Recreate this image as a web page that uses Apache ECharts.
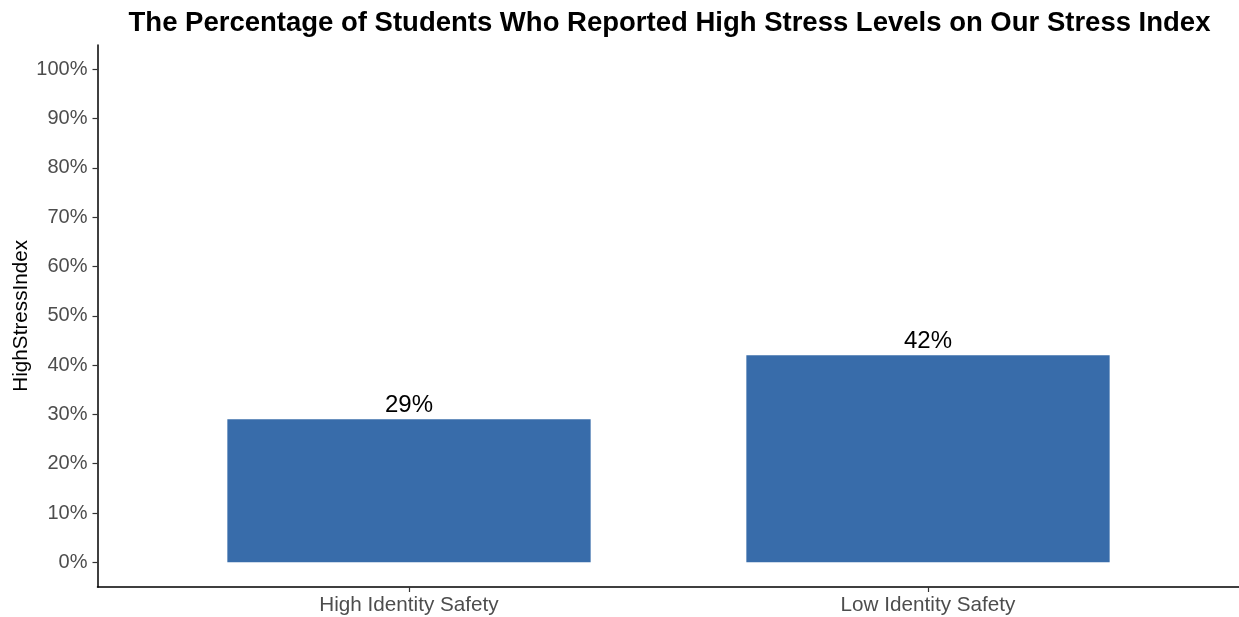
<!DOCTYPE html>
<html>
<head>
<meta charset="utf-8">
<script src="https://cdn.jsdelivr.net/npm/echarts@6/dist/echarts.min.js"></script>
<style>html,body{margin:0;padding:0;background:#fff;}#c{width:1239px;height:617px;}</style>
</head>
<body>
<div id="c"></div>
<script>
var categories = ['High Identity Safety', 'Low Identity Safety'];
var highStress = [29, 42];
var titleText = 'The Percentage of Students Who Reported High Stress Levels on Our Stress Index';
var yName = 'HighStressIndex';

var chart = echarts.init(document.getElementById('c'), null, {renderer: 'canvas'});
var font = 'Liberation Sans, Arial, sans-serif';
chart.setOption({
  animation: false,
  backgroundColor: '#fff',
  title: {
    text: titleText,
    left: 664.5, top: 4, textAlign: 'center',
    textStyle: {fontFamily: font, fontWeight: 'bold', fontSize: 27.5, color: '#000'}
  },
  grid: [
    {left: 97.5, right: 0, top: 45, bottom: 30, containLabel: false, outerBoundsMode: 'none'},
    {left: 149.5, right: 51.5, top: 69.3, bottom: 54.7, containLabel: false, outerBoundsMode: 'none'},
    {left: 149.5, right: 51.5, top: 45, bottom: 30, containLabel: false, outerBoundsMode: 'none'}
  ],
  xAxis: [
    {gridIndex: 0, type: 'value', min: 0, max: 1, axisLine: {show: true, onZero: false, lineStyle: {color: '#000', width: 1.5}},
     axisTick: {show: false}, axisLabel: {show: false}, splitLine: {show: false}},
    {gridIndex: 1, type: 'category', data: categories, show: false},
    {gridIndex: 2, type: 'category', data: categories,
     axisLine: {show: false}, axisTick: {show: true, alignWithLabel: true, length: 5, lineStyle: {color: '#333', width: 1.2}},
     axisLabel: {margin: 8, fontFamily: font, fontSize: 20.7, color: '#4d4d4d'}, splitLine: {show: false}}
  ],
  yAxis: [
    {gridIndex: 0, type: 'value', min: 0, max: 1, axisLine: {show: true, onZero: false, lineStyle: {color: '#000', width: 1.5}},
     axisTick: {show: false}, axisLabel: {show: false}, splitLine: {show: false}},
    {gridIndex: 1, type: 'value', min: 0, max: 100, interval: 10, offset: 52,
     name: yName, nameLocation: 'middle', nameGap: 66, nameRotate: 90, nameMoveOverlap: false,
     nameTextStyle: {fontFamily: font, fontSize: 20.7, color: '#000'},
     axisLine: {show: false}, axisTick: {show: true, length: 5, lineStyle: {color: '#333', width: 1.2}},
     axisLabel: {margin: 10, formatter: '{value}%', fontFamily: font, fontSize: 20, color: '#4d4d4d'},
     splitLine: {show: false}},
    {gridIndex: 2, type: 'value', min: 0, max: 1, show: false}
  ],
  series: [{
    type: 'bar', xAxisIndex: 1, yAxisIndex: 1, data: highStress, barWidth: '70%',
    itemStyle: {color: '#386caa'},
    label: {show: true, position: 'top', distance: 2, formatter: '{c}%', fontFamily: font, fontSize: 24, color: '#000'}
  }]
});
</script>
</body>
</html>
